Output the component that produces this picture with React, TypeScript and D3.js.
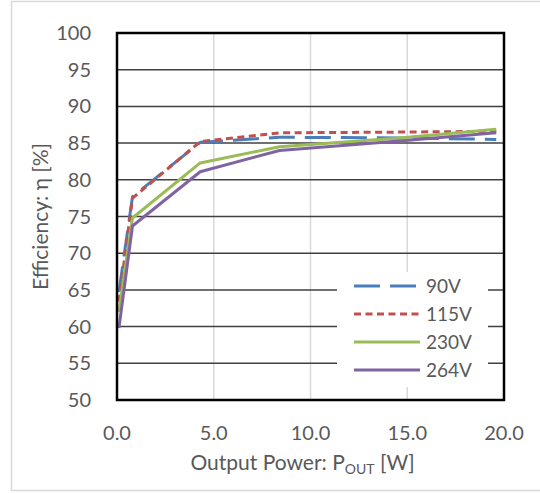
import React from 'react';
import * as d3 from 'd3';

const powerW = [0.1, 0.8, 4.3, 8.4, 14.6, 19.6];
const eff90 = [64.7, 77.7, 85.1, 85.8, 85.7, 85.5];
const eff115 = [63.4, 77.5, 85.2, 86.4, 86.5, 86.6];
const eff230 = [62.0, 74.8, 82.3, 84.5, 85.7, 86.9];
const eff264 = [59.8, 73.7, 81.1, 84.0, 85.3, 86.4];

const seriesNames = ['90V', '115V', '230V', '264V'];
const seriesValues = [eff90, eff115, eff230, eff264];
const seriesColors = ['#4a7ebb', '#c0504d', '#9bbb59', '#8064a2'];
const seriesDash = ['26,10', '7,4.5', null, null];

const xTicks = [0, 5, 10, 15, 20];
const yTicks = [50, 55, 60, 65, 70, 75, 80, 85, 90, 95, 100];

const W = 540;
const H = 494;
const plot = { left: 117, top: 33, right: 504, bottom: 400 };
const font = 'Lato, "Open Sans", sans-serif';
const textColor = '#595959';

export default function App() {
  const x = d3.scaleLinear().domain([0, 20]).range([plot.left, plot.right]);
  const y = d3.scaleLinear().domain([50, 100]).range([plot.bottom, plot.top]);
  const line = d3
    .line<number>()
    .x((_, i) => x(powerW[i]))
    .y(d => y(d));

  const legend = { x: 337, y: 272, w: 151, h: 115 };

  return (
    <svg width={W} height={H} style={{ position: 'absolute', left: 0, top: 0 }}>
      <rect x={0} y={0} width={W} height={H} fill="#fff" />
      <rect x={11.5} y={1.5} width={W} height={489} fill="#fff" stroke="#d9d9d9" strokeWidth={1.5} />

      {/* vertical light grid */}
      {xTicks.slice(1, -1).map(t => (
        <line key={'vx' + t} x1={x(t)} x2={x(t)} y1={plot.top} y2={plot.bottom}
          stroke="#d9d9d9" strokeWidth={1.5} />
      ))}
      {/* horizontal dark grid */}
      {yTicks.slice(1, -1).map(t => (
        <line key={'hy' + t} x1={plot.left} x2={plot.right} y1={y(t)} y2={y(t)}
          stroke="#404040" strokeWidth={1.5} />
      ))}

      <rect x={legend.x} y={legend.y} width={legend.w} height={legend.h} fill="#fff" />

      {seriesValues.map((vals, i) => (
        <path key={seriesNames[i]} d={line(vals) || ''} fill="none"
          stroke={seriesColors[i]} strokeWidth={3}
          strokeDasharray={seriesDash[i] || undefined} strokeLinejoin="round" />
      ))}

      <rect x={plot.left} y={plot.top} width={plot.right - plot.left} height={plot.bottom - plot.top}
        fill="none" stroke="#000" strokeWidth={2.5} />

      {yTicks.map(t => (
        <text key={'yt' + t} x={91} y={y(t)} dy="0.35em" textAnchor="end"
          fontFamily={font} fontSize={20} fill={textColor}>{t}</text>
      ))}
      {xTicks.map(t => (
        <text key={'xt' + t} x={x(t)} y={433} dy="0.35em" textAnchor="middle"
          fontFamily={font} fontSize={20} fill={textColor}>{t.toFixed(1)}</text>
      ))}

      <text transform={`translate(41,${(plot.top + plot.bottom) / 2}) rotate(-90)`}
        textAnchor="middle" dy="0.35em" fontFamily={font} fontSize={21} fill={textColor}>
        Efficiency: η [%]
      </text>
      <text x={(plot.left + plot.right) / 2 - 8} y={463} dy="0.35em" textAnchor="middle"
        fontFamily={font} fontSize={21} fill={textColor}>
        Output Power: P<tspan fontSize={14} dy="4">OUT</tspan><tspan dy="-4"> [W]</tspan>
      </text>

      {seriesNames.map((name, i) => {
        const ly = 286 + i * 28;
        return (
          <g key={'lg' + name}>
            <line x1={354} x2={420} y1={ly} y2={ly} stroke={seriesColors[i]} strokeWidth={3}
              strokeDasharray={seriesDash[i] || undefined} />
            <text x={426} y={ly} dy="0.35em" fontFamily={font} fontSize={19} fill={textColor}>{name}</text>
          </g>
        );
      })}
    </svg>
  );
}
